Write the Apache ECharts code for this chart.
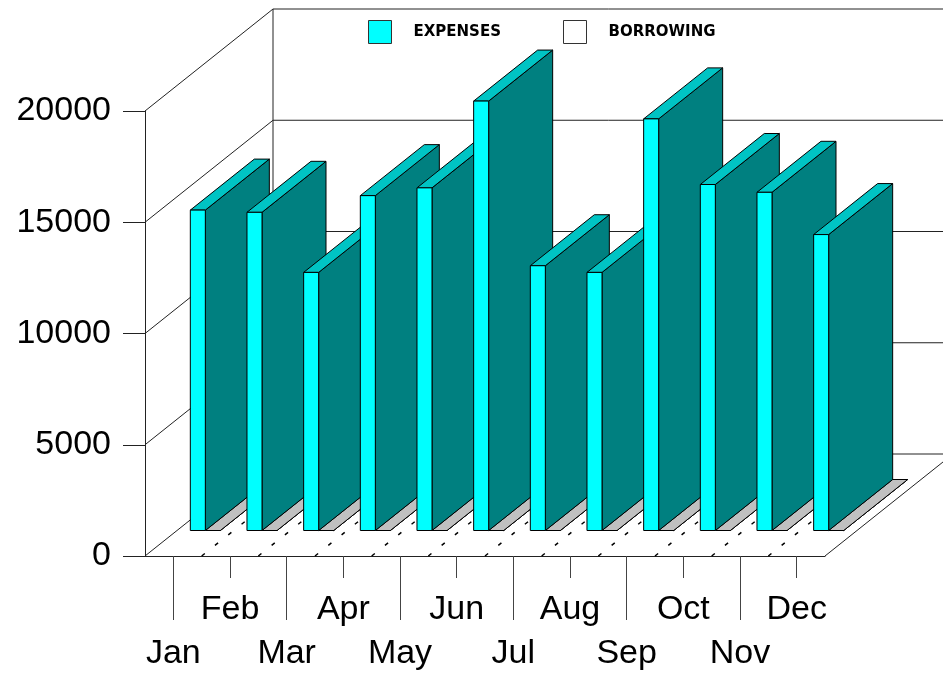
<!DOCTYPE html>
<html>
<head>
<meta charset="utf-8">
<title>Expenses</title>
<script src="https://cdn.jsdelivr.net/npm/echarts@6.0.0/dist/echarts.min.js"></script>
<style>
html, body { margin: 0; padding: 0; background: #fff; }
#chart { width: 943px; height: 673px; }
</style>
</head>
<body>
<div id="chart"></div>
<script>
// chart data
var months = ['Jan', 'Feb', 'Mar', 'Apr', 'May', 'Jun', 'Jul', 'Aug', 'Sep', 'Oct', 'Nov', 'Dec'];
var expenses = [14400, 14300, 11600, 15050, 15400, 19300, 11900, 11600, 18500, 15550, 15200, 13300];
var borrowing = [0, 0, 0, 0, 0, 0, 0, 0, 0, 0, 0, 0];
var yTicks = [0, 5000, 10000, 15000, 20000];

// oblique "3D" projection: offset of the back wall, bar depth span, bar width (share of band)
var DEPTH = [128, -102];
var D0 = 0.25, D1 = 0.75;
var BAR_W = 0.265;

function proj(x, y, d) {
    return [x + d * DEPTH[0], y + d * DEPTH[1]];
}

function poly(pts, fill) {
    return { type: 'polygon', shape: { points: pts }, style: { fill: fill, stroke: '#000', lineWidth: 1 } };
}

// walls, grid lines and dotted floor lines
var renderFrame = function (params, api) {
    var band = api.size([1, 0])[0];
    var left = api.coord([0, 0])[0] - band / 2;
    var right = api.coord([months.length - 1, 0])[0] + band / 2;
    var y0 = api.coord([0, 0])[1];
    var yTop = api.coord([0, yTicks[yTicks.length - 1]])[1];
    var solid = { stroke: '#222', lineWidth: 1 };
    var children = [];
    var seg = function (a, b, style) {
        children.push({ type: 'line', shape: { x1: a[0], y1: a[1], x2: b[0], y2: b[1] }, style: style });
    };
    yTicks.forEach(function (v) {
        var y = api.coord([0, v])[1];
        seg(proj(left, y, 0), proj(left, y, 1), solid);
        seg(proj(left, y, 1), proj(right, y, 1), solid);
    });
    seg(proj(left, y0, 1), proj(left, yTop, 1), solid);
    seg(proj(right, y0, 0), proj(right, y0, 1), solid);
    for (var k = 1; k < months.length; k++) {
        var x = left + k * band;
        seg(proj(x, y0, 0), proj(x, y0, 1), { stroke: '#000', lineWidth: 1.5, lineDash: [4, 13] });
    }
    return { type: 'group', children: children };
};

// one box; side = -1 puts it left of the band centre, +1 right of it
var makeBox = function (api, side, cFront, cSide, cTop) {
    var i = api.value(0);
    var base = api.coord([i, 0]);
    var top = api.coord([i, api.value(1)]);
    var w = api.size([1, 0])[0] * BAR_W;
    var xl = side < 0 ? base[0] - w : base[0];
    var xr = xl + w;
    var y0 = base[1], yv = top[1];
    return { type: 'group', children: [
        poly([proj(xr, y0, D0), proj(xr, y0, D1), proj(xr, yv, D1), proj(xr, yv, D0)], cSide),
        poly([proj(xl, yv, D0), proj(xr, yv, D0), proj(xr, yv, D1), proj(xl, yv, D1)], cTop),
        poly([proj(xl, y0, D0), proj(xr, y0, D0), proj(xr, yv, D0), proj(xl, yv, D0)], cFront)
    ]};
};

var toPairs = function (arr) {
    return arr.map(function (v, i) { return [i, v]; });
};

var labelFont = { fontFamily: 'Liberation Sans', fontSize: 34, color: '#000' };
var legendText = { fontFamily: 'DejaVu Sans', fontWeight: 'bold', fontSize: 15, color: '#000', padding: [0, 0, 0, 17] };

var option = {
    animation: false,
    backgroundColor: '#fff',
    grid: { left: 145, top: 111, width: 680, height: 445, containLabel: false },
    legend: [
        { data: ['EXPENSES'], left: 368, top: 20, padding: 0, icon: 'rect', itemWidth: 23, itemHeight: 23,
          selectedMode: false, itemStyle: { borderColor: '#333', borderWidth: 1 }, textStyle: legendText },
        { data: ['BORROWING'], left: 563, top: 20, padding: 0, icon: 'rect', itemWidth: 23, itemHeight: 23,
          selectedMode: false, itemStyle: { borderColor: '#333', borderWidth: 1 }, textStyle: legendText }
    ],
    xAxis: [
        {
            type: 'category', data: months, position: 'bottom',
            axisLine: { show: true, lineStyle: { color: '#222', width: 1 } },
            axisTick: { show: true, alignWithLabel: true, length: 64,
                interval: function (i) { return i % 2 === 0; }, lineStyle: { color: '#444' } },
            axisLabel: Object.assign({ margin: 81, interval: function (i) { return i % 2 === 0; } }, labelFont),
            splitLine: { show: false }
        },
        {
            type: 'category', data: months, position: 'bottom',
            axisLine: { show: false },
            axisTick: { show: true, alignWithLabel: true, length: 22,
                interval: function (i) { return i % 2 === 1; }, lineStyle: { color: '#444' } },
            axisLabel: Object.assign({ margin: 37, interval: function (i) { return i % 2 === 1; } }, labelFont),
            splitLine: { show: false }
        }
    ],
    yAxis: {
        type: 'value', min: 0, max: 20000, interval: 5000,
        axisLine: { show: true, lineStyle: { color: '#222', width: 1 } },
        axisTick: { show: true, length: 22, lineStyle: { color: '#222' } },
        axisLabel: Object.assign({ margin: 34, formatter: function (v) { return String(v); } }, labelFont),
        splitLine: { show: false }
    },
    series: [
        {
            name: 'frame', type: 'custom', silent: true,
            data: [[0, 0]], renderItem: renderFrame
        },
        {
            name: 'BORROWING', type: 'custom', silent: true,
            itemStyle: { color: '#ffffff' },
            data: toPairs(borrowing),
            renderItem: function (params, api) { return makeBox(api, 1, '#ffffff', '#c0c0c0', '#c0c0c0'); }
        },
        {
            name: 'EXPENSES', type: 'custom', silent: true,
            itemStyle: { color: '#00ffff' },
            data: toPairs(expenses),
            renderItem: function (params, api) { return makeBox(api, -1, '#00ffff', '#008080', '#00c4c4'); }
        }
    ]
};

var chart = echarts.init(document.getElementById('chart'));
chart.setOption(option);
</script>
</body>
</html>
